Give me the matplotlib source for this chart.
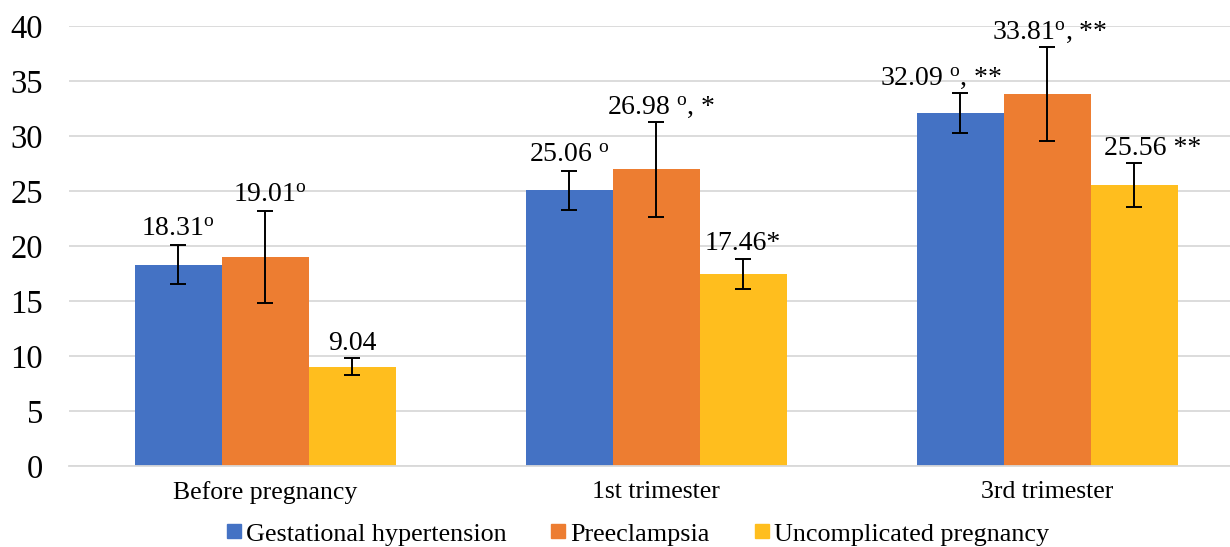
import matplotlib
matplotlib.use("Agg")
import matplotlib.pyplot as plt
from matplotlib.lines import Line2D
import numpy as np

plt.rcParams["font.family"] = ["Liberation Serif", "DejaVu Serif"]
plt.rcParams["mathtext.fontset"] = "custom"
plt.rcParams["mathtext.rm"] = "Liberation Serif"
plt.rcParams["mathtext.it"] = "Liberation Serif:italic"

# ── Data ─────────────────────────────────────────────────────────────────────
periods = ["Before pregnancy", "1st trimester", "3rd trimester"]
series = ["Gestational hypertension", "Preeclampsia", "Uncomplicated pregnancy"]

gest_hyp = [18.31, 25.06, 32.09]
preecl = [19.01, 26.98, 33.81]
uncompl = [9.04, 17.46, 25.56]

gest_hyp_err = [1.8, 1.8, 1.8]
preecl_err = [4.2, 4.3, 4.3]
uncompl_err = [0.75, 1.4, 2.0]

SUP = r"$^{\mathrm{o}}$"
gest_hyp_sfx = [SUP, " " + SUP, " " + SUP + ", **"]
preecl_sfx = [SUP, " " + SUP + ", *", SUP + ", **"]
uncompl_sfx = ["", "*", " **"]

COLORS = ["#4472C4", "#ED7D31", "#FFBE1E"]
GRID = "#D9D9D9"

fig = plt.figure(figsize=(12.3, 5.47), dpi=100)
ax = fig.add_axes([0.0565, 0.148, 0.9537, 0.8044])

x = np.arange(len(periods))
w = 0.2225
vals = [gest_hyp, preecl, uncompl]
errs = [gest_hyp_err, preecl_err, uncompl_err]
sfxs = [gest_hyp_sfx, preecl_sfx, uncompl_sfx]
# small manual label nudges (pixels) as in the original
dx = [[0, 0, -19], [5, 5, 3], [0, 0, 19]]

for i in range(3):
    xs = x + (i - 1) * w
    ax.bar(xs, vals[i], width=w, color=COLORS[i], zorder=2)
    ax.errorbar(xs, vals[i], yerr=errs[i], fmt="none", ecolor="black",
                elinewidth=1.4, capsize=6, capthick=1.4, zorder=3)
    for j in range(3):
        ax.annotate(f"{vals[i][j]:.2f}{sfxs[i][j]}",
                    xy=(xs[j], vals[i][j] + errs[i][j]),
                    xytext=(dx[i][j] * 0.72, 6), textcoords="offset points",
                    ha="center", va="baseline", fontsize=20, zorder=4)

ax.set_xlim(-0.5, 2.5)
ax.set_ylim(0, 40)
ax.set_yticks(range(0, 41, 5))
ax.set_xticks(x)
ax.set_xticklabels(periods)
ax.yaxis.grid(True, color=GRID, linewidth=1.3, zorder=0)
ax.set_axisbelow(True)
ax.tick_params(axis="y", length=0, pad=19, labelsize=23.5)
ax.tick_params(axis="x", length=0, pad=11, labelsize=18.5)
for s in ["left", "right", "top"]:
    ax.spines[s].set_visible(False)
ax.spines["bottom"].set_color(GRID)
ax.spines["bottom"].set_linewidth(1.3)

handles = [Line2D([], [], marker="s", linestyle="none", markersize=10,
                  markerfacecolor=c, markeredgecolor=c) for c in COLORS]
fig.legend(handles, series, loc="center", bbox_to_anchor=(0.5187, 0.024),
           ncol=3, frameon=False, fontsize=18.8, handlelength=0.5,
           handletextpad=0.2, columnspacing=1.75, borderaxespad=0)

fig.savefig("out.png", dpi=100)
